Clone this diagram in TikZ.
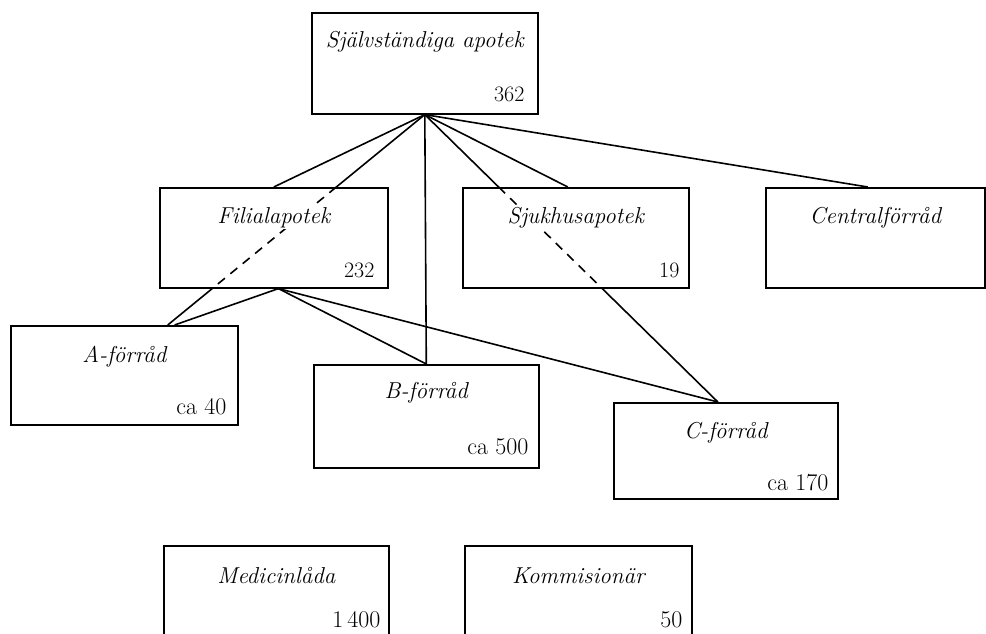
\documentclass[tikz,border=0pt]{standalone}
\usetikzlibrary{calc,intersections}
\begin{document}
\begin{tikzpicture}[x=1pt,y=-1pt,
  box/.style={draw, line width=1.6pt, inner sep=0pt, anchor=north west},
  ttl/.style={inner sep=1.5pt, fill=white, anchor=base, font=\fontsize{23}{27}\selectfont\itshape},
  num/.style={inner sep=0pt, anchor=base east, font=\fontsize{24}{28}\selectfont},
  numsm/.style={num, font=\fontsize{22}{26}\selectfont},
  conn/.style={line width=1.6pt},
  dsh/.style={line width=1.6pt, dash pattern=on 9pt off 7pt}]
\useasboundingbox (0,0) rectangle (986,634);
\clip (0,0) rectangle (986,634);
% boxes
\node[box, minimum width=226pt, minimum height=101pt] (S) at (311,12) {};
\node[box, minimum width=228pt, minimum height=100pt] (F) at (159,187) {};
\node[box, minimum width=226pt, minimum height=100pt] (H) at (462,187) {};
\node[box, minimum width=219pt, minimum height=100pt] (Z) at (765,187) {};
\node[box, minimum width=227pt, minimum height=99pt] (A) at (10,325) {};
\node[box, minimum width=225pt, minimum height=103pt] (B) at (313,364) {};
\node[box, minimum width=224pt, minimum height=96pt] (C) at (613,402) {};
\node[box, minimum width=225pt, minimum height=100pt] (M) at (163,545) {};
\node[box, minimum width=227pt, minimum height=100pt] (K) at (464,545) {};
% numbers
\node[numsm] (Sn) at ($(S.south east)+(-14,-13)$) {362};
\node[numsm] (Fn) at ($(F.south east)+(-14,-11)$) {232};
\node[numsm] (Hn) at ($(H.south east)+(-10,-11)$) {19};
\node[num] (An) at ($(A.south east)+(-12,-11)$) {ca 40};
\node[num] (Bn) at ($(B.south east)+(-11,-14)$) {ca 500};
\node[num] (Cn) at ($(C.south east)+(-10,-9)$) {ca 170};
\node[num] (Mn) at ($(M.north east)+(-9,82)$) {1\,400};
\node[num] (Kn) at ($(K.north east)+(-10,82)$) {50};
% attachment points
\coordinate (Aa1) at ($(A.north west)!0.69!(A.north east)$);
\coordinate (Aa2) at ($(A.north west)!0.72!(A.north east)$);
\coordinate (Ca) at ($(C.north west)!0.465!(C.north east)$);
\coordinate (Ha) at ($(H.north west)!0.465!(H.north east)$);
\coordinate (Za) at ($(Z.north west)!0.466!(Z.north east)$);
\coordinate (Fb) at ($(F.south west)!0.52!(F.south east)$);
% plain connectors
\draw[conn] (S.south) -- (F.north);
\draw[conn] (S.south) -- (B.north);
\draw[conn] (S.south) -- (Ha);
\draw[conn] (S.south) -- (Za);
\draw[conn] (Fb) -- (Aa2);
\draw[conn] (Fb) -- (B.north);
\draw[conn] (Fb) -- (Ca);
% connectors dashed through a box
\path[name path=p2] (S.south) -- (Aa1);
\path[name path=fbox] (F.north west) rectangle (F.south east);
\path[name intersections={of=p2 and fbox, by={f1,f2}, sort by=p2}];
\draw[conn] (S.south) -- (f1);
\draw[dsh] (f1) -- (f2);
\draw[conn] (f2) -- (Aa1);
\path[name path=p4] (S.south) -- (Ca);
\path[name path=hbox] (H.north west) rectangle (H.south east);
\path[name intersections={of=p4 and hbox, by={h1,h2}, sort by=p4}];
\draw[conn] (S.south) -- (h1);
\draw[dsh] (h1) -- (h2);
\draw[conn] (h2) -- (Ca);
% titles (drawn last so they mask the dashed lines)
\node[ttl] (St) at ($(S.north)+(0,36)$) {Självständiga apotek};
\node[ttl] (Ft) at ($(F.north)+(0,36)$) {Filialapotek};
\node[ttl] (Ht) at ($(H.north)+(0,36)$) {Sjukhusapotek};
\node[ttl] (Zt) at ($(Z.north)+(0,36)$) {Centralförråd};
\node[ttl] (At) at ($(A.north)+(0,37)$) {A-förråd};
\node[ttl] (Bt) at ($(B.north)+(0,34)$) {B-förråd};
\node[ttl] (Ct) at ($(C.north)+(0,36)$) {C-förråd};
\node[ttl] (Mt) at ($(M.north)+(0,38)$) {Medicinlåda};
\node[ttl] (Kt) at ($(K.north)+(0,38)$) {Kommisionär};
\end{tikzpicture}
\end{document}
